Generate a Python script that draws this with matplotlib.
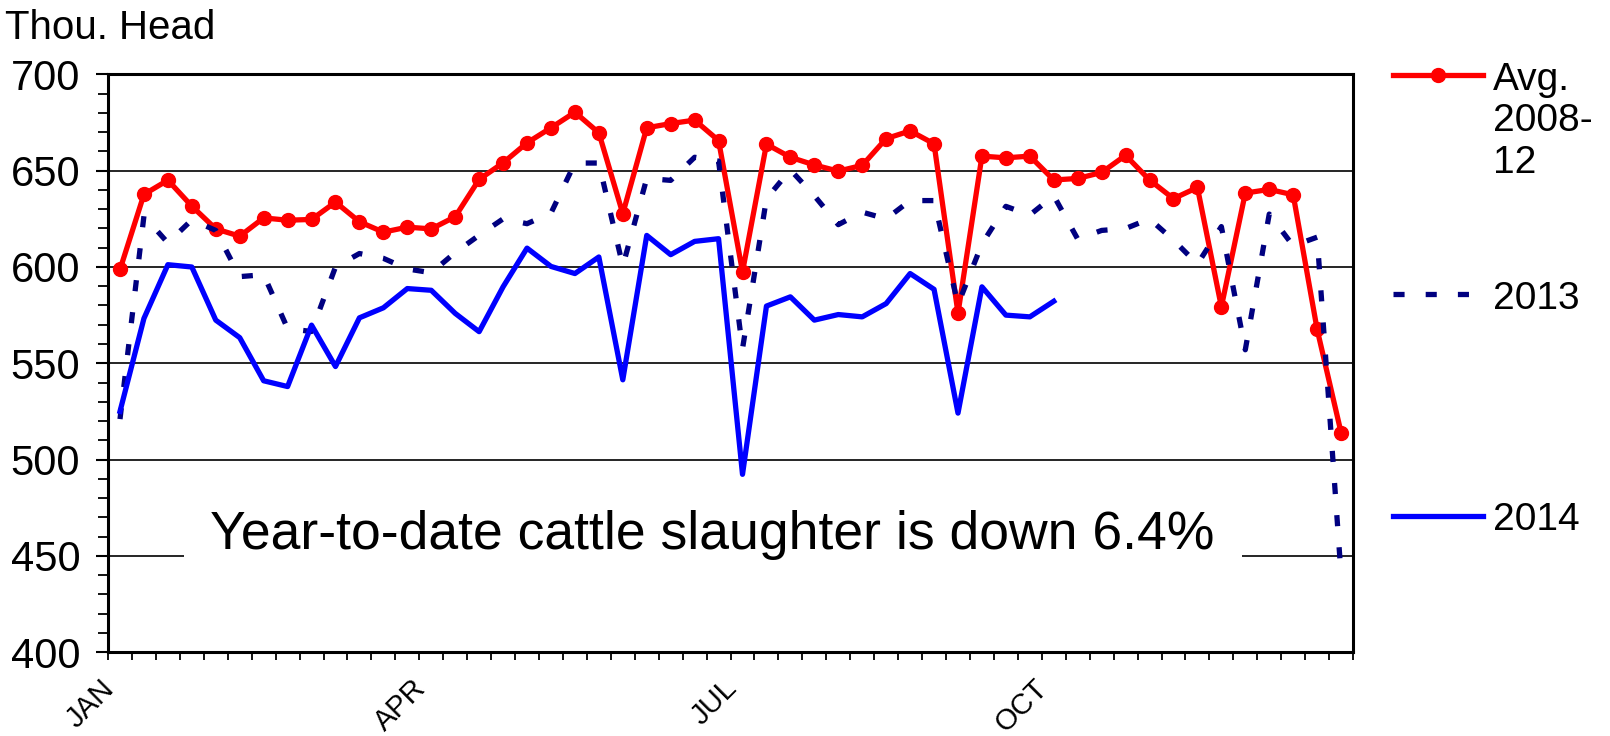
import numpy as np
import matplotlib.pyplot as plt
from matplotlib.lines import Line2D
from matplotlib.ticker import FixedLocator, MultipleLocator

plt.rcParams['font.family'] = ['Liberation Sans', 'DejaVu Sans']

# weekly cattle slaughter, thousand head
avg_2008_12 = [598.7, 637.7, 645.1, 631.6, 619.8, 616.0, 625.5, 624.3, 624.7, 633.7,
               623.5, 618.1, 620.7, 619.8, 626.1, 645.5, 654.1, 664.5, 672.3, 680.4,
               669.7, 627.7, 672.3, 674.5, 676.3, 665.7, 597.5, 663.8, 657.0, 653.0,
               649.8, 652.8, 666.7, 670.7, 664.0, 576.0, 657.6, 656.7, 657.6, 645.2,
               646.0, 649.1, 658.0, 645.2, 635.5, 641.3, 579.3, 638.4, 640.3, 637.5,
               567.6, 514.0]
y2013 = [521.0, 626.5, 612.5, 624.5, 619.0, 595.0, 596.0, 568.0, 566.5, 600.0,
         607.0, 604.5, 599.0, 597.0, 607.5, 616.5, 625.0, 622.5, 628.0, 654.0,
         654.0, 600.5, 646.0, 645.0, 657.0, 655.0, 557.5, 635.5, 650.5, 637.0,
         622.0, 628.5, 625.0, 634.5, 634.5, 580.5, 612.0, 631.5, 627.0, 637.0,
         614.5, 619.0, 620.0, 625.0, 614.0, 601.5, 621.0, 557.0, 627.5, 611.0,
         615.5, 440.0]
y2014 = [525.0, 573.3, 601.2, 600.0, 572.4, 563.3, 540.9, 537.9, 569.8, 548.3,
         573.6, 578.8, 588.8, 587.9, 575.9, 566.4, 589.7, 609.8, 600.3, 596.6,
         605.2, 541.4, 616.4, 606.4, 613.3, 614.7, 492.3, 579.7, 584.5, 572.4,
         575.3, 574.1, 581.0, 596.6, 588.4, 524.1, 589.7, 575.0, 574.1, 582.2]

month_pos = [0, 13, 26, 39]
month_labels = ['JAN', 'APR', 'JUL', 'OCT']
series_names = ['Avg.\n2008-\n12', '2013', '2014']

weeks = np.arange(len(avg_2008_12))

fig = plt.figure(figsize=(16.1, 7.36), dpi=100)
ax = fig.add_axes([0.0671, 0.1141, 0.7733, 0.7847])

ax.plot(weeks, avg_2008_12, color='#FF0000', lw=3.8, marker='o', ms=10, zorder=3)
ax.plot(weeks, y2013, color='#000080', lw=3.8, dashes=(2.1, 4.0), zorder=4)
ax.plot(weeks[:len(y2014)], y2014, color='#0000FF', lw=3.8, zorder=5)

ax.set_xlim(-0.5, 51.5)
ax.set_ylim(400, 700)
ax.yaxis.set_major_locator(MultipleLocator(50))
ax.yaxis.set_minor_locator(MultipleLocator(10))
ax.yaxis.grid(True, color='black', lw=1.2)
ax.set_axisbelow(True)

ax.xaxis.set_major_locator(FixedLocator(month_pos))
ax.set_xticklabels(month_labels, rotation=45, ha='right', va='top', fontsize=21)
ax.xaxis.set_minor_locator(FixedLocator(np.arange(-0.5, 52, 1)))
ax.tick_params(axis='x', which='major', length=0, pad=16)
ax.tick_params(axis='x', which='minor', length=6, width=1.3, direction='out')
ax.tick_params(axis='y', which='major', length=9, width=1.5, labelsize=30, pad=11)
ax.tick_params(axis='y', which='minor', length=7, width=1.3)
for s in ax.spines.values():
    s.set_linewidth(2.2)

ax.text(24.75, 453.3, 'Year-to-date cattle slaughter is down 6.4%', fontsize=38.5,
        ha='center', va='baseline', zorder=2,
        bbox=dict(boxstyle='square,pad=0.5', fc='white', ec='none'))

fig.text(5 / 1610, 1 - 39 / 736, 'Thou. Head', fontsize=29, ha='left', va='baseline')

# legend on the right
lx0, lx1 = 0.8652, 0.9211
fig.add_artist(Line2D([lx0, (lx0 + lx1) / 2, lx1], [0.898] * 3, transform=fig.transFigure,
                      color='#FF0000', lw=3.8, marker='o', ms=10, markevery=[1]))
fig.add_artist(Line2D([lx0, lx1], [0.6005] * 2, transform=fig.transFigure,
                      color='#000080', lw=3.8, dashes=(2.1, 4.0)))
fig.add_artist(Line2D([lx0, lx1], [0.299] * 2, transform=fig.transFigure,
                      color='#0000FF', lw=3.8))
fig.text(0.9273, 1 - 61.5 / 736, series_names[0], fontsize=28, va='top', ha='left')
fig.text(0.9273, 1 - 309 / 736, series_names[1], fontsize=28, va='baseline', ha='left')
fig.text(0.9273, 1 - 530 / 736, series_names[2], fontsize=28, va='baseline', ha='left')

fig.savefig('out.png', dpi=100)
